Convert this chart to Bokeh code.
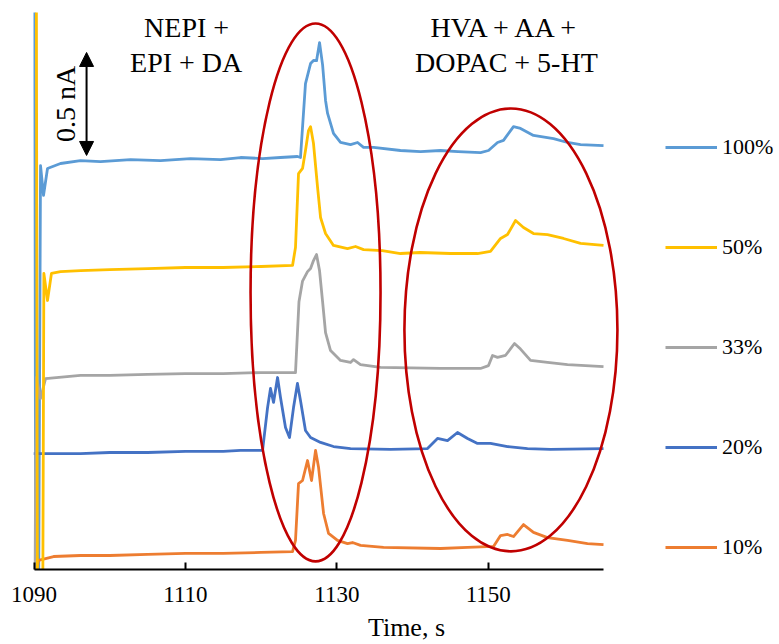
from bokeh.plotting import figure
from bokeh.models import (Range1d, LinearAxis, FixedTicker, Legend, LegendItem,
                          Label, Arrow, NormalHead)
from bokeh.embed import file_html
from bokeh.resources import INLINE

FONT = "Liberation Serif"

# ---------------- data (time in s, current in nA incl. vertical offsets) -------------
t_100 = [1090.0, 1090.25, 1090.6, 1090.86, 1091.25, 1091.78, 1093.5, 1096.14, 1098.78,
         1102.75, 1106.71, 1110.67, 1114.64, 1117.28, 1120.19, 1122.56, 1124.8, 1125.2,
         1125.86, 1126.53, 1126.92, 1127.32, 1127.72, 1128.12, 1128.51, 1128.78, 1129.56,
         1130.49, 1131.81, 1132.74, 1133.53, 1134.85, 1138.41, 1141.06, 1143.7, 1146.0,
         1148.98, 1150.04, 1151.23, 1152.02, 1153.34, 1154.27, 1155.98, 1158.63, 1160.48,
         1162.2, 1165.23]
i_100 = [3.0, -0.2, -0.2, 1.961, 1.816, 1.947, 1.971, 1.985, 1.98,
         1.99, 1.985, 1.995, 1.99, 2.0, 1.995, 2.0, 2.005, 2.0,
         2.359, 2.456, 2.471, 2.47, 2.558, 2.45, 2.277, 2.214, 2.117,
         2.073, 2.063, 2.073, 2.049, 2.049, 2.034, 2.029, 2.034, 2.029,
         2.024, 2.034, 2.073, 2.083, 2.150, 2.141, 2.107, 2.092, 2.073,
         2.063, 2.058]

t_50 = [1090.3, 1090.45, 1091.15, 1091.3, 1091.78, 1092.3, 1093.5, 1096.14, 1100.0,
        1105.0, 1110.0, 1115.0, 1120.0, 1124.15, 1124.54, 1124.94, 1125.47, 1125.86,
        1126.26, 1126.53, 1126.92, 1127.46, 1127.85, 1128.51, 1129.56, 1131.41, 1132.47,
        1133.53, 1136.0, 1138.41, 1141.0, 1145.0, 1148.59, 1150.3, 1151.63, 1152.55,
        1153.61, 1154.66, 1155.98, 1157.83, 1159.95, 1162.2, 1165.23]
i_50 = [3.0, -0.2, -0.2, 1.437, 1.306, 1.437, 1.446, 1.451, 1.456,
        1.461, 1.466, 1.466, 1.471, 1.476, 1.563, 1.922, 1.947, 2.034,
        2.131, 2.150, 2.068, 1.854, 1.709, 1.631, 1.573, 1.558, 1.568,
        1.553, 1.548, 1.534, 1.539, 1.534, 1.534, 1.544, 1.607, 1.626,
        1.694, 1.660, 1.631, 1.626, 1.607, 1.583, 1.573]

t_33 = [1090.07, 1090.33, 1090.86, 1091.52, 1096.14, 1100.0, 1105.0, 1110.0, 1115.0,
        1120.0, 1124.54, 1125.0, 1125.47, 1126.13, 1126.53, 1126.92, 1127.32, 1127.72,
        1128.12, 1128.51, 1129.17, 1130.49, 1131.81, 1132.21, 1133.13, 1135.77, 1143.7,
        1148.98, 1150.04, 1150.57, 1151.23, 1152.3, 1153.47, 1154.27, 1155.59, 1157.83,
        1160.48, 1165.23]
i_33 = [-0.2, 0.932, 0.830, 0.927, 0.942, 0.942, 0.947, 0.951, 0.951,
        0.956, 0.956, 1.30, 1.40, 1.446, 1.461, 1.50, 1.529, 1.45,
        1.30, 1.15, 1.063, 1.015, 1.005, 1.019, 0.995, 0.981, 0.976,
        0.976, 0.99, 1.039, 1.03, 1.04, 1.097, 1.07, 1.015, 1.005,
        0.995, 0.985]

t_20 = [1089.93, 1093.5, 1096.14, 1100.0, 1105.0, 1110.0, 1115.0, 1117.28, 1120.19,
        1120.85, 1121.24, 1121.64, 1122.17, 1122.56, 1123.22, 1123.75, 1124.28, 1124.8,
        1125.2, 1125.86, 1126.53, 1127.85, 1129.56, 1131.81, 1137.09, 1141.98, 1143.3,
        1144.62, 1145.94, 1147.27, 1148.59, 1150.3, 1152.55, 1155.19, 1158.23, 1165.23]
i_20 = [0.563, 0.563, 0.563, 0.568, 0.568, 0.573, 0.573, 0.578, 0.578,
        0.786, 0.879, 0.811, 0.932, 0.835, 0.689, 0.641, 0.786, 0.903,
        0.820, 0.675, 0.641, 0.617, 0.597, 0.587, 0.583, 0.587, 0.636,
        0.626, 0.665, 0.636, 0.612, 0.612, 0.597, 0.587, 0.583, 0.587]

t_10 = [1090.07, 1090.59, 1092.58, 1096.14, 1100.0, 1105.0, 1110.0, 1115.0, 1120.0,
        1124.15, 1124.54, 1124.94, 1125.47, 1126.13, 1126.66, 1127.19, 1127.59, 1128.25,
        1128.91, 1130.09, 1131.41, 1132.07, 1133.13, 1136.17, 1143.7, 1147.27, 1150.7,
        1151.63, 1152.55, 1153.34, 1154.66, 1155.98, 1157.83, 1160.48, 1163.12, 1165.23]
i_10 = [-0.05, 0.044, 0.063, 0.068, 0.068, 0.073, 0.078, 0.078, 0.083,
        0.087, 0.141, 0.417, 0.432, 0.529, 0.432, 0.578, 0.495, 0.272,
        0.175, 0.141, 0.126, 0.131, 0.117, 0.107, 0.102, 0.107, 0.112,
        0.165, 0.170, 0.160, 0.218, 0.180, 0.155, 0.141, 0.126, 0.121]

series_labels = ["100%", "50%", "33%", "20%", "10%"]
series_colors = ["#5B9BD5", "#FFC000", "#A5A5A5", "#4472C4", "#ED7D31"]

x_ticks = [1090, 1110, 1130, 1150]
x_title = "Time, s"

# highlight ellipses (centre time, centre current, width s, height nA)
ell_x = [1127.19, 1153.0]
ell_y = [1.345, 1.163]
ell_w = [17.17, 28.14]
ell_h = [2.612, 2.150]

# ---------------- figure ----------------
p = figure(width=779, height=644, output_backend="svg", toolbar_location=None,
           x_range=Range1d(1089.93, 1188.48), y_range=Range1d(0, 2.704),
           x_axis_location=None, y_axis_location=None,
           min_border_left=33, min_border_right=0, min_border_top=12,
           min_border_bottom=75)
p.outline_line_color = None
p.xgrid.visible = False
p.ygrid.visible = False
p.background_fill_color = "white"
p.border_fill_color = "white"

xaxis = LinearAxis(bounds=(1090, 1165.2), ticker=FixedTicker(ticks=x_ticks),
                   axis_label=x_title)
xaxis.axis_line_color = "black"
xaxis.axis_line_width = 2
xaxis.major_tick_line_color = "black"
xaxis.major_tick_line_width = 2
xaxis.major_tick_in = 7
xaxis.major_tick_out = 0
xaxis.minor_tick_line_color = None
xaxis.major_label_text_font = FONT
xaxis.major_label_text_font_size = "23px"
xaxis.major_label_text_color = "black"
xaxis.major_label_standoff = 17
xaxis.axis_label_text_font = FONT
xaxis.axis_label_text_font_style = "normal"
xaxis.axis_label_text_font_size = "26px"
xaxis.axis_label_text_color = "black"
xaxis.axis_label_standoff = 8
p.add_layout(xaxis, "below")

ts = [t_100, t_50, t_33, t_20, t_10]
cs = [i_100, i_50, i_33, i_20, i_10]
renderers = {}
for idx in [0, 4, 3, 2, 1]:
    r = p.line(ts[idx], cs[idx], line_color=series_colors[idx], line_width=2.8,
               line_join="round")
    renderers[idx] = r

p.ellipse(x=ell_x, y=ell_y, width=ell_w, height=ell_h, fill_color=None,
          line_color="#C00000", line_width=2.6)

legend = Legend(items=[LegendItem(label=series_labels[i], renderers=[renderers[i]])
                       for i in range(5)],
                location=(632, 9), orientation="vertical",
                glyph_width=52, glyph_height=26, label_height=26, spacing=74,
                label_standoff=5, padding=0, margin=0,
                border_line_color=None, background_fill_alpha=0,
                label_text_font=FONT, label_text_font_size="22px",
                label_text_color="black")
p.add_layout(legend)

# annotations
for txt, x, y in [("NEPI +", 1110.15, 2.632), ("EPI + DA", 1110.1, 2.462),
                  ("HVA + AA +", 1152.3, 2.632), ("DOPAC + 5-HT", 1152.4, 2.462)]:
    p.add_layout(Label(x=x, y=y, text=txt, text_font=FONT, text_font_size="28px",
                       text_align="center", text_baseline="alphabetic",
                       text_color="black"))

p.add_layout(Label(x=1094.2, y=2.26, text="0.5 nA", angle=1.5708,
                   text_font=FONT, text_font_size="28px", text_align="center",
                   text_baseline="alphabetic", text_color="black"))

p.add_layout(Arrow(x_start=1096.94, y_start=2.01, x_end=1096.94, y_end=2.51,
                   line_width=2, line_color="black",
                   start=NormalHead(size=14, fill_color="black", line_color="black"),
                   end=NormalHead(size=14, fill_color="black", line_color="black")))

open("out.html", "w").write(file_html(p, INLINE))
